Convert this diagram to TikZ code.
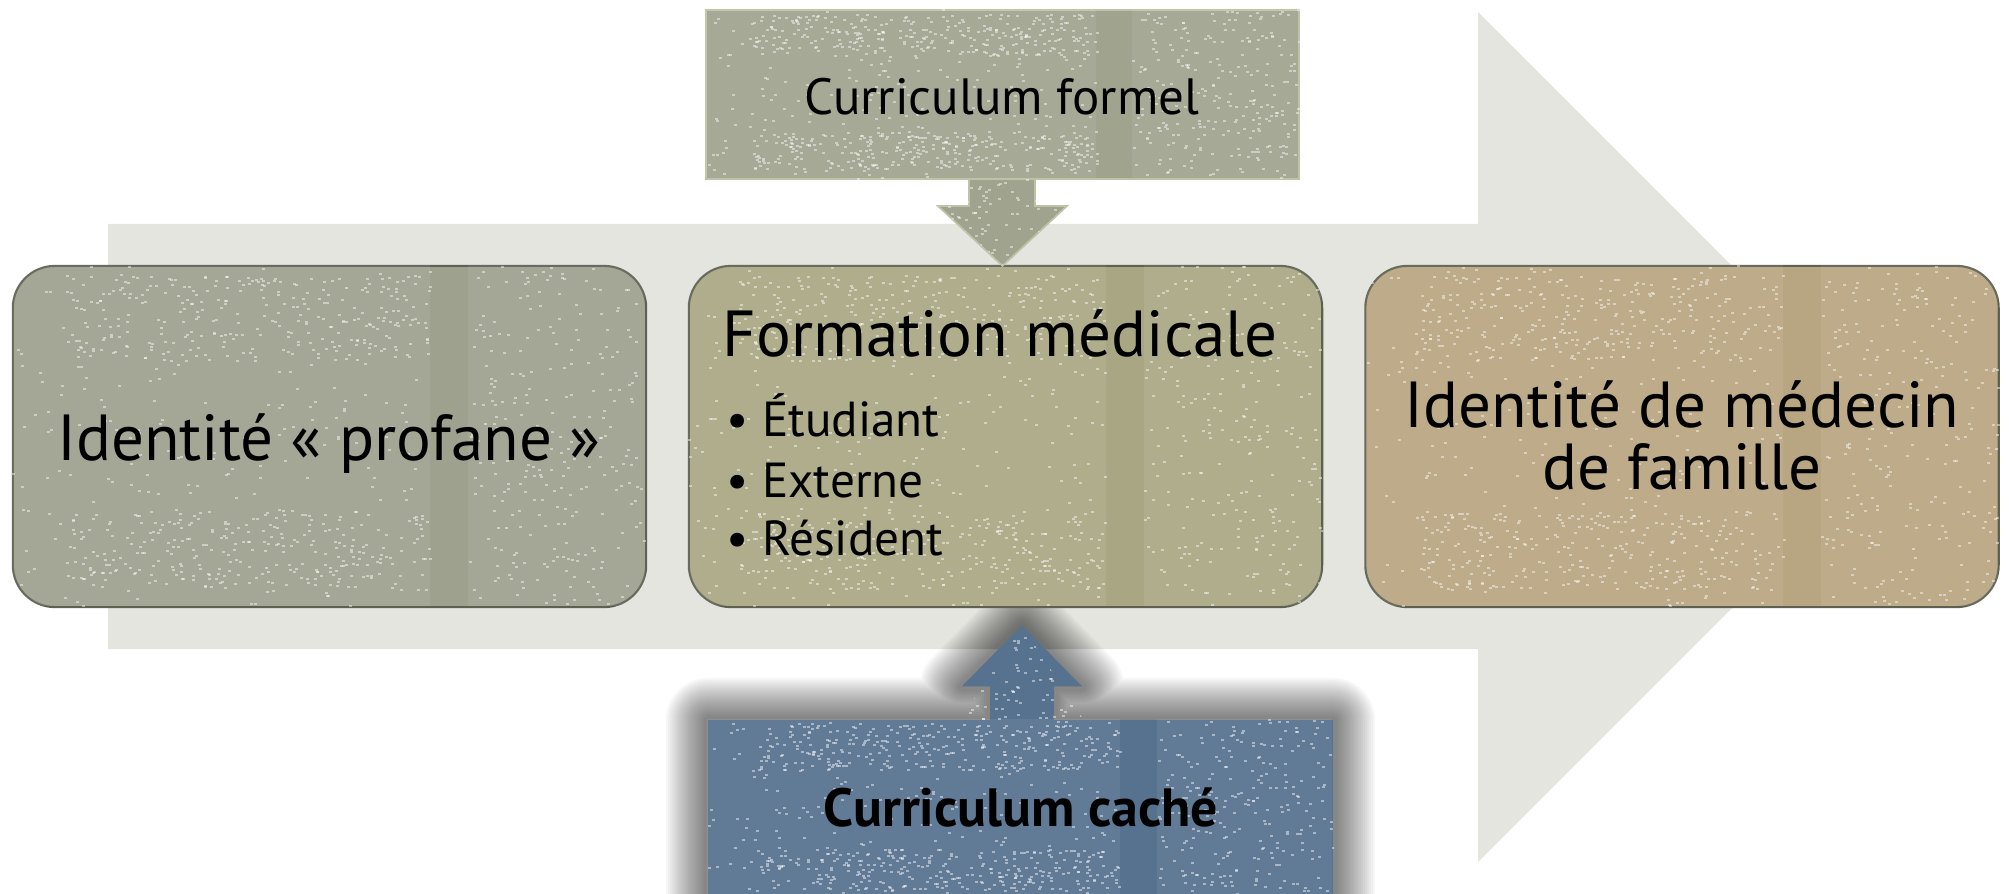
\documentclass[tikz,border=0pt]{standalone}
\usepackage{fontspec}
\setmainfont{PT Sans}
\usetikzlibrary{calc}

\definecolor{arrowbg}{HTML}{E4E5DE}
\definecolor{cone}{HTML}{9EA18E}
\definecolor{ctwo}{HTML}{A9A783}
\definecolor{cthree}{HTML}{B8A581}
\definecolor{cformel}{HTML}{A0A38E}
\definecolor{ccache}{HTML}{56728F}
\definecolor{edgec}{HTML}{5E6052}
\definecolor{formeledge}{HTML}{BFC2A6}

\tikzset{
  stage/.style={draw=edgec, line width=0.6pt, rounded corners=0.42cm,
    minimum width=6.33cm, minimum height=3.41cm, inner sep=0pt},
  bigtxt/.style={font=\fontsize{18.5}{22}\selectfont, text=black, inner sep=0pt},
  smalltxt/.style={font=\fontsize{14}{16}\selectfont, text=black, inner sep=0pt},
  speck/.style={white, opacity=0.45},
}

% grain texture: node, width px, height px, corner radius
\newcommand\grain[4]{%
  \begin{scope}
    \clip[rounded corners=#4] (#1.north west) rectangle (#1.south east);
    \begin{scope}[shift={(#1.north west)}]
      \fill[white,opacity=0.07] (0,0) rectangle ({0.66*#2},#3);
      \fill[white,opacity=0.07] ({0.72*#2},0) rectangle (#2,#3);
      \foreach \k in {1,...,260}{
        \fill[speck] ({rnd*0.66*#2},{rnd*#3}) rectangle ++(3,2);
        \fill[speck] ({(0.72+rnd*0.28)*#2},{rnd*#3}) rectangle ++(3,2);
      }
      \foreach \k in {1,...,260}{
        \fill[speck] ({(0.08+rnd*0.58)*#2},{(0.03+rnd*0.25)*#3}) rectangle ++(3,2);
        \fill[speck] ({(0.08+rnd*0.58)*#2},{(0.72+rnd*0.23)*#3}) rectangle ++(3,2);
      }
    \end{scope}
  \end{scope}}

\begin{document}
\begin{tikzpicture}[x=0.01cm,y=-0.01cm]
\pgfmathsetseed{7}
\useasboundingbox (0,0) rectangle (2009,894);
\clip (0,0) rectangle (2009,894);

% large background arrow
\fill[arrowbg] (108,224) -- (1478,224) -- (1478,12) -- (1903,437)
  -- (1478,862) -- (1478,649) -- (108,649) -- cycle;

% glow around hidden curriculum
\coordinate (ctop) at (1022,720);
\foreach \w in {0.84,0.80,0.76,0.72,0.68,0.64,0.60,0.56,0.52,0.48,0.44,0.40,0.36,0.32,0.28,0.24,0.20,0.16,0.12,0.08}{
  \draw[black, opacity=0.032, line width=\w cm, line join=round]
    ($(ctop)+(-314,0)$) -- ($(ctop)+(-32,0)$) -- ($(ctop)+(-32,-33)$)
    -- ($(ctop)+(-60,-33)$) -- ($(ctop)+(0,-94)$) -- ($(ctop)+(60,-33)$)
    -- ($(ctop)+(32,-33)$) -- ($(ctop)+(32,0)$) -- ($(ctop)+(311,0)$)
    -- ($(ctop)+(311,180)$) -- ($(ctop)+(-314,180)$) -- cycle;
}

% hidden curriculum box and up arrow
\node[fill=ccache, minimum width=6.25cm, minimum height=1.80cm, inner sep=0pt]
  (cache) at (1020.5,810) {};
\fill[ccache] ($(cache.north)+(-30.5,0.5)$) -- ++(0,-33.5) -- ++(-28,0)
  -- ($(cache.north)+(1.5,-94)$) -- ($(cache.north)+(61.5,-33)$) -- ++(-28,0)
  -- ($(cache.north)+(33.5,0.5)$) -- cycle;
\begin{scope}
  \clip ($(cache.north)+(-60,0.5)$) -- ($(cache.north)+(1.5,-94)$) -- ($(cache.north)+(63,0.5)$) -- cycle;
  \foreach \k in {1,...,110}{\fill[speck] ({960+rnd*125},{626+rnd*95}) rectangle ++(3,2);}
\end{scope}
\grain{cache}{625}{180}{0pt}

% stage boxes
\node[stage, fill=cone] (profane) at (329.5,436.5) {};
\grain{profane}{633}{341}{0.42cm}
\node[stage, fill=ctwo] (formation) at (1005.5,436.5) {};
\grain{formation}{633}{341}{0.42cm}
\node[stage, fill=cthree] (famille) at (1682,436.5) {};
\grain{famille}{634}{341}{0.42cm}

% formal curriculum box and down arrow
\node[fill=cformel, draw=formeledge, line width=0.5pt, minimum width=5.93cm,
  minimum height=1.69cm, inner sep=0pt] (formel) at (1002.5,94.5) {};
\grain{formel}{593}{169}{0pt}
\fill[cformel, draw=formeledge, line width=0.5pt]
  ($(formel.south)+(-33.5,-1)$) -- ++(0,27) -- ++(-31,0)
  -- ($(formel.south |- formation.north)+(0,1)$)
  -- ($(formel.south)+(64.5,26)$) -- ++(-32,0) -- ($(formel.south)+(32.5,-1)$) -- cycle;
\begin{scope}
  \clip ($(formel.south)+(-65,26)$) -- ($(formel.south |- formation.north)$) -- ($(formel.south)+(65,26)$) -- ++(0,-27) -- ++(-130,0) -- cycle;
  \foreach \k in {1,...,100}{\fill[speck] ({936+rnd*132},{179+rnd*88}) rectangle ++(3,2);}
\end{scope}

% texts
\node[bigtxt, anchor=base] (t1) at (329,460) {Identité « profane »};
\node[bigtxt, anchor=base west] (t2) at (722,356) {Formation médicale};
\node[smalltxt, anchor=base west] (b1) at (726,436) {• Étudiant};
\node[smalltxt, anchor=base west] (b2) at (726,497) {• Externe};
\node[smalltxt, anchor=base west] (b3) at (726,555) {• Résident};
\node[bigtxt, anchor=base] (t3a) at (1682,427) {Identité de médecin};
\node[bigtxt, anchor=base] (t3b) at (1682,489) {de famille};
\node[smalltxt, font=\fontsize{14.5}{17}\selectfont, anchor=base] (tf) at (1002,115) {Curriculum formel};
\node[smalltxt, font=\bfseries\fontsize{15.3}{18}\selectfont, anchor=base] (tc) at (1021,826) {Curriculum caché};
\end{tikzpicture}
\end{document}
